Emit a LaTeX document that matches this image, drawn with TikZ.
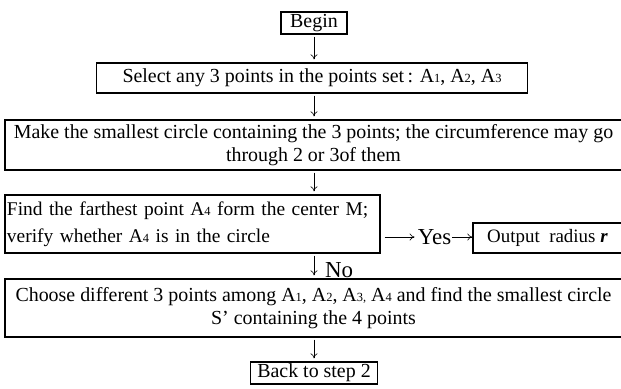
\documentclass[tikz,border=0pt]{standalone}
\usepackage{fontspec}
\setmainfont{Liberation Serif}
\usetikzlibrary{arrows.meta}
\newcommand{\sub}[1]{{\fontsize{12.5}{12.5}\selectfont #1}}
\begin{document}
\begin{tikzpicture}[x=1bp,y=-1bp,
  box/.style={draw, line width=1.3bp, inner sep=0pt, font=\fontsize{20}{23}\selectfont},
  flow/.style={line width=0.6bp, -{To[length=5bp,width=7bp]}, shorten <=2bp, shorten >=3bp},
  lbl/.style={inner sep=0pt, font=\fontsize{23}{23}\selectfont}]
\useasboundingbox (0,0) rectangle (621,388);
\node[box, minimum width=66bp, minimum height=22bp] (begin) at (314,23) {Begin};
\node[box, minimum width=431bp, minimum height=30bp] (select) at (312,78)
  {Select any 3 points in the points set\,: A\sub{1}, A\sub{2}, A\sub{3}};
\node[box, minimum width=617bp, minimum height=50bp, align=center] (make) at (313.5,145)
  {Make the smallest circle containing the 3 points; the circumference may go\\through 2 or 3of them};
\node[box, minimum width=375bp, minimum height=58bp, text width=371bp, inner xsep=2bp, align=left,
  font=\fontsize{19.5}{27}\selectfont] (find) at (192.5,224)
  {Find the farthest point A\sub{4} form the center M;\\verify whether A\sub{4} is in the circle};
\node[box, minimum width=149bp, minimum height=30bp, font=\fontsize{19}{20}\selectfont] (output) at (547.5,238)
  {Output\ \ radius \textbf{\textit{r}}};
\node[lbl] (yes) at (434.5,237) {Yes};
\node[box, minimum width=617bp, minimum height=58bp, align=center] (choose) at (313.5,308)
  {Choose different 3 points among A\sub{1}, A\sub{2}, A\sub{3}\sub{,} A\sub{4} and find the smallest circle\\S' containing the 4 points};
\node[box, minimum width=127bp, minimum height=22bp] (back) at (314,373) {Back to step 2};
\node[lbl] (no) at (339,270) {No};
\draw[flow] (begin) -- (begin |- select.north);
\draw[flow] (select.south -| begin) -- (make.north -| begin);
\draw[flow] (make.south -| begin) -- (find.north -| begin);
\draw[flow] (find.south -| begin) -- (choose.north -| begin);
\draw[flow] (choose.south -| begin) -- (back);
\draw[flow, shorten <=4bp] (find.east |- yes) -- (yes.west);
\draw[flow, shorten <=1bp, shorten >=0bp] (yes.east) -- (output.west |- yes);
\end{tikzpicture}
\end{document}
